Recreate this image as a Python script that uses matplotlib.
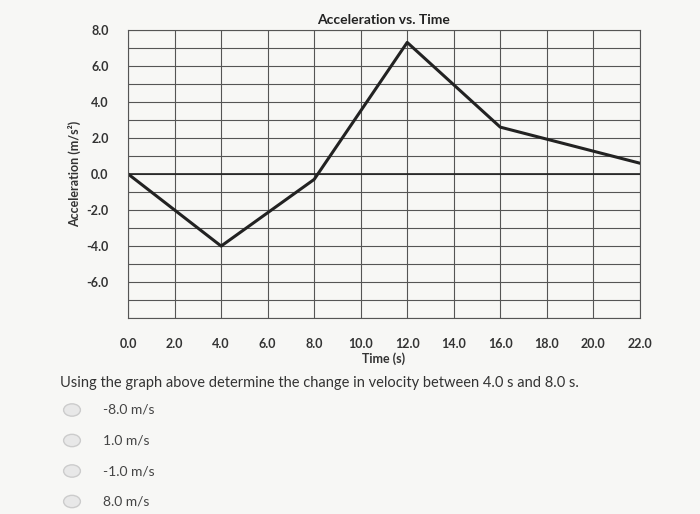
import matplotlib
matplotlib.use("Agg")
import matplotlib.pyplot as plt
from matplotlib.patches import Circle

time_s = [0, 4, 8, 12, 16, 22]
accel = [0, -4, -0.3, 7.3, 2.6, 0.6]
xticks = [0, 2, 4, 6, 8, 10, 12, 14, 16, 18, 20, 22]
yticks = [8, 6, 4, 2, 0, -2, -4, -6]
question = "Using the graph above determine the change in velocity between 4.0 s and 8.0 s."
choices = ["-8.0 m/s", "1.0 m/s", "-1.0 m/s", "8.0 m/s"]

plt.rcParams["font.family"] = ["Lato", "DejaVu Sans"]
fig = plt.figure(figsize=(7.0, 5.14), dpi=100, facecolor="#f7f7f5")
ax = fig.add_axes([0.183, 0.381, 0.731, 0.561], facecolor="#f7f7f5")
ax.set_xlim(0, 22)
ax.set_ylim(-8, 8)
ax.set_xticks(xticks)
ax.set_xticklabels([f"{v:.1f}" for v in xticks], fontsize=9, fontweight="bold", color="#333")
ax.set_yticks(yticks)
ax.set_yticklabels([f"{v:.1f}" for v in yticks], fontsize=9, fontweight="bold", color="#333")
ax.set_yticks(range(-8, 9), minor=True)
ax.tick_params(length=0, which="both", pad=14)
ax.grid(which="both", color="#555", linewidth=0.8)
for s in ax.spines.values():
    s.set_color("#555")
ax.axhline(0, color="#222", linewidth=1.2)
ax.plot(time_s, accel, color="#222", linewidth=2.2)
ax.set_title("Acceleration vs. Time", fontsize=10, fontweight="bold", color="#222", pad=4)
ax.set_xlabel("Time (s)", fontsize=9, fontweight="bold", color="#333", labelpad=2)
ax.set_ylabel("Acceleration (m/s²)", fontsize=9, fontweight="bold", color="#333")

fig.text(60 / 700, 1 - 383 / 514, question, fontsize=10.5, color="#333", va="center")
for i, c in enumerate(choices):
    y = 1 - (410 + i * 30.5) / 514
    fig.text(103 / 700, y, c, fontsize=10, color="#444", va="center")
    fig.patches.append(Circle((72 / 700, y), 0.012, transform=fig.transFigure,
                              facecolor="#e8e8e8", edgecolor="#ccc"))

fig.savefig("out.png", dpi=100, facecolor=fig.get_facecolor())
